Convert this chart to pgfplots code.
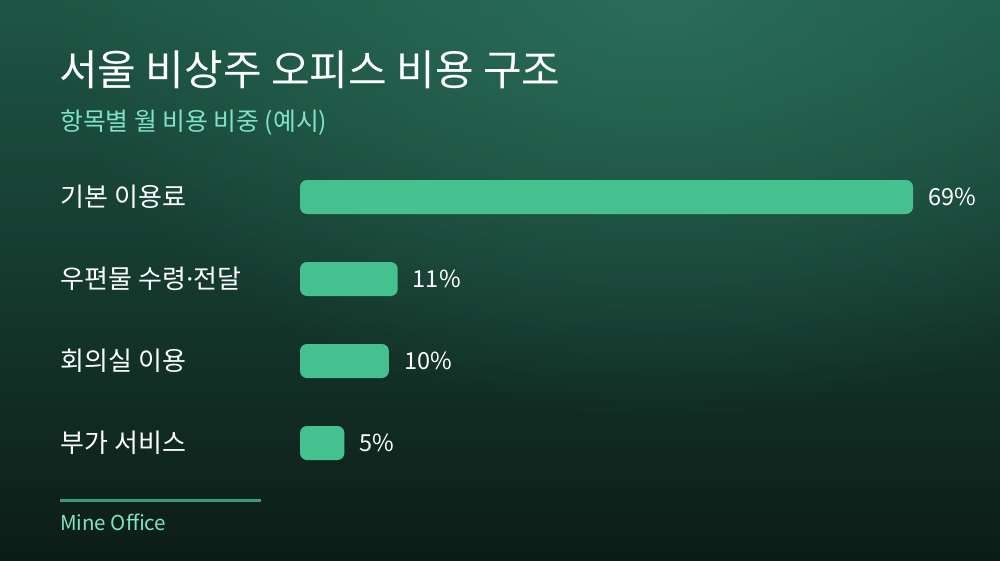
\documentclass[border=0pt]{standalone}
\usepackage{pgfplots}
\pgfplotsset{compat=1.18}
\usetikzlibrary{fadings}
\usepackage{fontspec}
\setmainfont{Noto Sans CJK KR}
\newfontfamily\latinfont{Noto Sans}
\definecolor{bgtop}{HTML}{1E5645}
\definecolor{bgbot}{HTML}{0C1C17}
\definecolor{glow}{HTML}{2C735D}
\definecolor{barcol}{HTML}{45C08F}
\definecolor{mint}{HTML}{7FE3C4}
\definecolor{rulecol}{HTML}{3A9C7A}
\tikzfading[name=glowfade, inner color=transparent!20, outer color=transparent!100]
\begin{document}
\begin{tikzpicture}[x=1pt,y=1pt]
% background
\shade[top color=bgtop, bottom color=bgbot] (0,0) rectangle (1000,560);
\begin{scope}
\clip (0,0) rectangle (1000,560);
\fill[glow, path fading=glowfade] (660,560) ellipse (620 and 420);
\end{scope}
% title block
\node[anchor=west, inner sep=0, text=white, font=\fontsize{42}{42}\selectfont] at (59,490) {서울 비상주 오피스 비용 구조};
\node[anchor=west, inner sep=0, text=mint, font=\fontsize{24.8}{24.8}\selectfont] at (60,437) {항목별 월 비용 비중 (예시)};

\begin{axis}[
    anchor=north west, at={(300pt,404pt)},
    width=613pt, height=328pt, scale only axis,
    xbar, bar width=34pt,
    xmin=0, xmax=69,
    ymin=-0.5, ymax=3.5, y dir=reverse,
    axis line style={draw=none}, tick style={draw=none},
    xtick=\empty,
    ytick={0,1,2,3},
    yticklabels={기본 이용료, 우편물 수령{\latinfont ·}전달, 회의실 이용, 부가 서비스},
    yticklabel style={anchor=west, xshift=-235pt, inner sep=0, text=white,
        font=\fontsize{26}{26}\selectfont},
    point meta=x,
    nodes near coords={\pgfmathprintnumber{\pgfplotspointmeta}\%},
    nodes near coords style={anchor=west, inner sep=0, xshift=15pt, text=white,
        font=\fontsize{23.5}{23.5}\selectfont, /pgf/number format/assume math mode=true},
    clip=false,
    ]
%% share of monthly cost per item
\addplot[fill=barcol, draw=none, rounded corners=7pt]
coordinates{
    (69,0)
    (11,1)
    (10,2)
    (5,3)
    };
\end{axis}

% footer
\draw[rulecol, line width=3pt] (60,60) -- (261,60);
\node[anchor=west, inner sep=0, text=mint, font=\fontsize{20.5}{20.5}\selectfont] at (60,38) {Mine Office};
\end{tikzpicture}
\end{document}
